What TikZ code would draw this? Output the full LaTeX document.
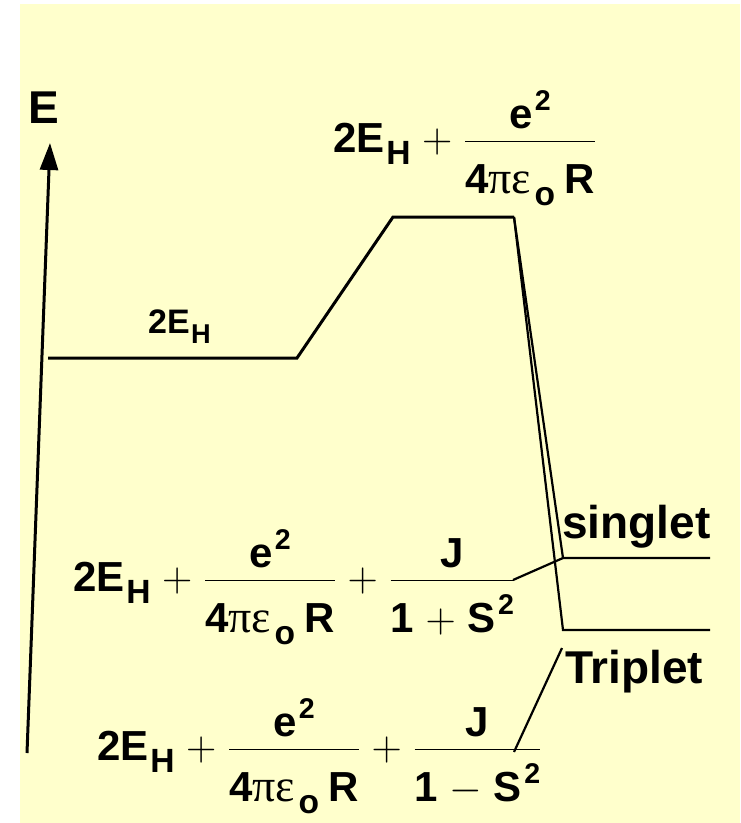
\RequirePackage{fix-cm}
\documentclass[tikz,border=0pt]{standalone}
\usepackage{amsmath}
\usepackage{fontspec}
\setmainfont{Liberation Sans}
\newfontfamily\grkfont{Liberation Serif}
\usetikzlibrary{arrows.meta}
\definecolor{slideyellow}{HTML}{FFFFCC}
\medmuskip=5mu plus 2mu minus 4mu\relax
\newcommand{\dn}[1]{\hspace{.04em}\raisebox{-.3em}{\scalebox{.8}{#1}}}
\newcommand{\up}[1]{\hspace{.06em}\raisebox{.42em}{\scalebox{.68}{#1}}}
\newcommand{\fr}[2]{\dfrac{\raisebox{-.12em}{#1}}{\rule{0pt}{1.15em}#2}}
\newcommand{\coul}{\fr{e\up{2}}{\text{4{\grkfont\mdseries\fontsize{46}{50}\selectfont πε}\hspace{.04em}\dn{o}\hspace{.22em}R}}}
\newcommand{\exch}[1]{\fr{J}{\text{1}#1\text{S\up{2}}}}

\begin{document}
\begin{tikzpicture}[x=1pt, y=-1pt,
  level/.style     ={line width=3pt, line join=miter},
  thinlevel/.style ={line width=2.2pt},
  axis/.style      ={line width=3pt, -{Triangle[length=27pt, width=18pt]}},
  eqn/.style       ={anchor=base west, inner sep=0pt,
                     font=\fontsize{42}{50}\selectfont\bfseries},
  tag/.style       ={anchor=base west, inner sep=0pt,
                     font=\fontsize{46}{54}\selectfont\bfseries},
]
\useasboundingbox (0,0) rectangle (740,823);
\fill[slideyellow] (20,4) rectangle (740,823);

% corners of the levels
\coordinate (axisB) at (27,753);
\coordinate (axisT) at (50,143);
\coordinate (hL)    at (48,358);
\coordinate (hR)    at (297,358);
\coordinate (topL)  at (393,217);
\coordinate (topR)  at (514,217);
\coordinate (sgL)   at (563,558);
\coordinate (sgR)   at (710,558);
\coordinate (trL)   at (563,630);
\coordinate (trR)   at (710,630);
\coordinate (sgA)   at (513,580);
\coordinate (trA)   at (514,752);
\coordinate (trB)   at (562,648);

\draw[axis] (axisB) -- (axisT);
\node[font=\fontsize{46}{54}\selectfont\bfseries, inner sep=0pt] (elab) at (44,108) {E};

\draw[level] (hL) -- (hR) -- (topL) -- (topR);
\draw[thinlevel] (topR) -- (sgL) -- (sgR);
\draw[thinlevel] (topR) -- (trL) -- (trR);
\draw[thinlevel] (sgA) -- (sgL);
\draw[thinlevel] (trA) -- (trB);

\node[anchor=base west, inner sep=0pt, font=\fontsize{34}{40}\selectfont\bfseries]
  (hlab) at (148,333) {2E\dn{H}};
\node[eqn] (eqtop) at (333,152) {$\text{2E\dn{H}}+\coul$};
\node[eqn] (eqsg)  at (73,591)  {$\text{2E\dn{H}}+\coul+\exch{+}$};
\node[eqn] (eqtr)  at (97,760)  {$\text{2E\dn{H}}+\coul+\exch{-}$};

\node[tag] (sglab) at (562,538) {singlet};
\node[tag] (trlab) at (565,683) {Triplet};
\end{tikzpicture}
\end{document}
